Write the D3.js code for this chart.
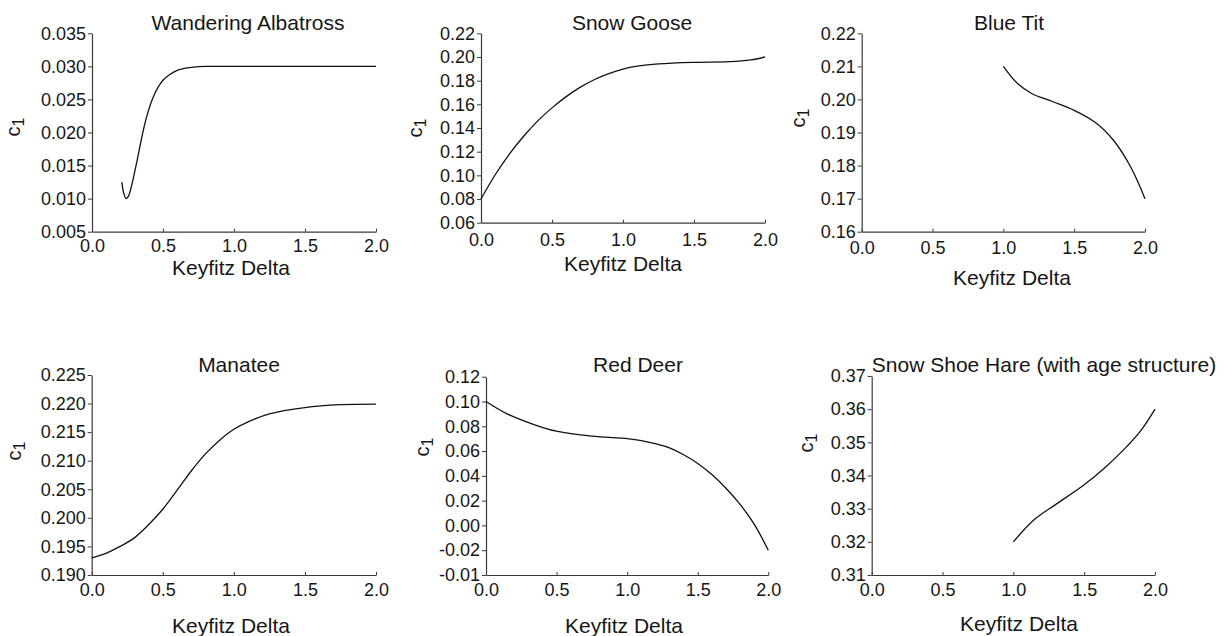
<!DOCTYPE html>
<html>
<head>
<meta charset="utf-8">
<script src="https://cdn.jsdelivr.net/npm/d3@7"></script>
<style>
  html, body { margin: 0; padding: 0; background: #fff; }
  svg { display: block; }
  text { font-family: "Liberation Sans", Arial, sans-serif; fill: #161616; }
</style>
</head>
<body>
<svg id="chart" width="1231" height="636"></svg>
<script>
// ---------------- DATA ----------------
const titles = ["Wandering Albatross", "Snow Goose", "Blue Tit", "Manatee", "Red Deer", "Snow Shoe Hare (with age structure)"];
const xLabel = "Keyfitz Delta";
const xTicks = [0, 0.5, 1.0, 1.5, 2.0];

const albatross = [[0.21,0.0125],[0.225,0.0107],[0.24,0.0100],[0.255,0.0103],[0.27,0.0112],[0.29,0.0130],[0.32,0.0160],[0.35,0.0192],[0.385,0.0224],[0.43,0.0253],[0.47,0.0270],[0.50,0.0279],[0.55,0.0288],[0.60,0.0294],[0.65,0.0297],[0.70,0.02985],[0.80,0.0300],[0.9,0.0300],[1.2,0.0300],[1.6,0.0300],[2.0,0.0300]];
const snowGoose = [[0,0.080],[0.1,0.1005],[0.2,0.118],[0.3,0.133],[0.4,0.146],[0.5,0.157],[0.6,0.1665],[0.7,0.1745],[0.8,0.181],[0.9,0.186],[1.0,0.1898],[1.1,0.1922],[1.25,0.1942],[1.5,0.1955],[1.75,0.196],[1.9,0.1975],[2.0,0.200]];
const blueTit = [[1.0,0.210],[1.1,0.2048],[1.2,0.2018],[1.35,0.1993],[1.5,0.1967],[1.65,0.1930],[1.78,0.1875],[1.9,0.1795],[2.0,0.170]];
const manatee = [[0,0.193],[0.1,0.1938],[0.2,0.195],[0.3,0.1965],[0.4,0.1988],[0.5,0.2015],[0.6,0.2048],[0.7,0.2082],[0.8,0.2112],[0.9,0.2136],[1.0,0.2155],[1.1,0.2168],[1.25,0.2182],[1.5,0.2193],[1.75,0.2198],[2.0,0.2199]];
const redDeer = [[0,0.100],[0.15,0.090],[0.35,0.081],[0.5,0.076],[0.75,0.072],[1.0,0.070],[1.1,0.0685],[1.2,0.066],[1.3,0.0625],[1.4,0.057],[1.5,0.050],[1.6,0.041],[1.7,0.030],[1.8,0.017],[1.9,0.001],[2.0,-0.020]];
const snowShoeHare = [[1.0,0.320],[1.15,0.3268],[1.3,0.3313],[1.5,0.3372],[1.65,0.3425],[1.8,0.3487],[1.9,0.3535],[2.0,0.360]];

const albatrossYTicks = [0.005,0.010,0.015,0.020,0.025,0.030,0.035];
const snowGooseYTicks = [0.06,0.08,0.10,0.12,0.14,0.16,0.18,0.20,0.22];
const blueTitYTicks = [0.16,0.17,0.18,0.19,0.20,0.21,0.22];
const manateeYTicks = [0.190,0.195,0.200,0.205,0.210,0.215,0.220,0.225];
const redDeerYTicks = [-0.04,-0.02,0.00,0.02,0.04,0.06,0.08,0.10,0.12];
const redDeerYTickLabels = ["-0.01","-0.02","0.00","0.02","0.04","0.06","0.08","0.10","0.12"];
const hareYTicks = [0.31,0.32,0.33,0.34,0.35,0.36,0.37];

const series = [albatross, snowGoose, blueTit, manatee, redDeer, snowShoeHare];
const yTickSets = [albatrossYTicks, snowGooseYTicks, blueTitYTicks, manateeYTicks, redDeerYTicks, hareYTicks];
const yFormats = [d3.format(".3f"), d3.format(".2f"), d3.format(".2f"), d3.format(".3f"),
                  d => redDeerYTickLabels[redDeerYTicks.indexOf(d)], d3.format(".2f")];

// ---------------- LAYOUT ----------------
const layout = [
  {L:92,   R:376,   T:33.3,  B:231.7, tx:248,  ty:30,  lx:231,  ly:275, cx:15,  cy:127, pad:8},
  {L:481,  R:765,   T:33.3,  B:222.7, tx:632,  ty:30,  lx:623,  ly:271, cx:417, cy:128, pad:11},
  {L:861.7,R:1145,  T:33.3,  B:231.7, tx:1009, ty:30,  lx:1012, ly:285, cx:800, cy:118, pad:10},
  {L:91.7, R:376,   T:375,   B:575,   tx:239,  ty:372, lx:231,  ly:633, cx:16,  cy:451, pad:8},
  {L:486,  R:768.3, T:376.7, B:575,   tx:638,  ty:372, lx:624,  ly:633, cx:424, cy:447, pad:8},
  {L:871.7,R:1155,  T:376,   B:575,   tx:1044, ty:372, lx:1019, ly:631, cx:808, cy:443, pad:8}
];

const svg = d3.select("#chart");

series.forEach((data, i) => {
  const p = layout[i];
  const yt = yTickSets[i];
  const x = d3.scaleLinear().domain([0, 2]).range([p.L, p.R]);
  const y = d3.scaleLinear().domain([yt[0], yt[yt.length - 1]]).range([p.B, p.T]);
  const g = svg.append("g");

  const gx = g.append("g")
    .attr("transform", `translate(0,${p.B})`)
    .call(d3.axisBottom(x).tickValues(xTicks).tickFormat(d3.format(".1f"))
      .tickSizeInner(-3).tickSizeOuter(0).tickPadding(p.pad));
  const gy = g.append("g")
    .attr("transform", `translate(${p.L},0)`)
    .call(d3.axisLeft(y).tickValues(yt).tickFormat(yFormats[i])
      .tickSizeInner(4).tickSizeOuter(0).tickPadding(2));

  [gx, gy].forEach(a => {
    a.selectAll("path.domain").attr("stroke", "#3a3a3a").attr("stroke-width", 1.2);
    a.selectAll(".tick line").attr("stroke", "#3a3a3a").attr("stroke-width", 1);
    a.selectAll(".tick text").attr("font-size", 18).attr("fill", "#161616")
      .attr("font-family", '"Liberation Sans", Arial, sans-serif');
  });

  const line = d3.line().x(d => x(d[0])).y(d => y(d[1])).curve(d3.curveCatmullRom.alpha(0.5));
  g.append("path").datum(data)
    .attr("d", line)
    .attr("fill", "none")
    .attr("stroke", "#111")
    .attr("stroke-width", 1.3);

  g.append("text").attr("x", p.tx).attr("y", p.ty)
    .attr("text-anchor", "middle").attr("font-size", 21).text(titles[i]);

  g.append("text").attr("x", p.lx).attr("y", p.ly)
    .attr("text-anchor", "middle").attr("font-size", 21).text(xLabel);

  const yl = g.append("text")
    .attr("transform", `translate(${p.cx + 5},${p.cy}) rotate(-90)`)
    .attr("text-anchor", "middle").attr("font-size", 20);
  yl.append("tspan").text("c");
  yl.append("tspan").attr("dy", "0.28em").attr("font-size", 16).text("1");
});
</script>
</body>
</html>
